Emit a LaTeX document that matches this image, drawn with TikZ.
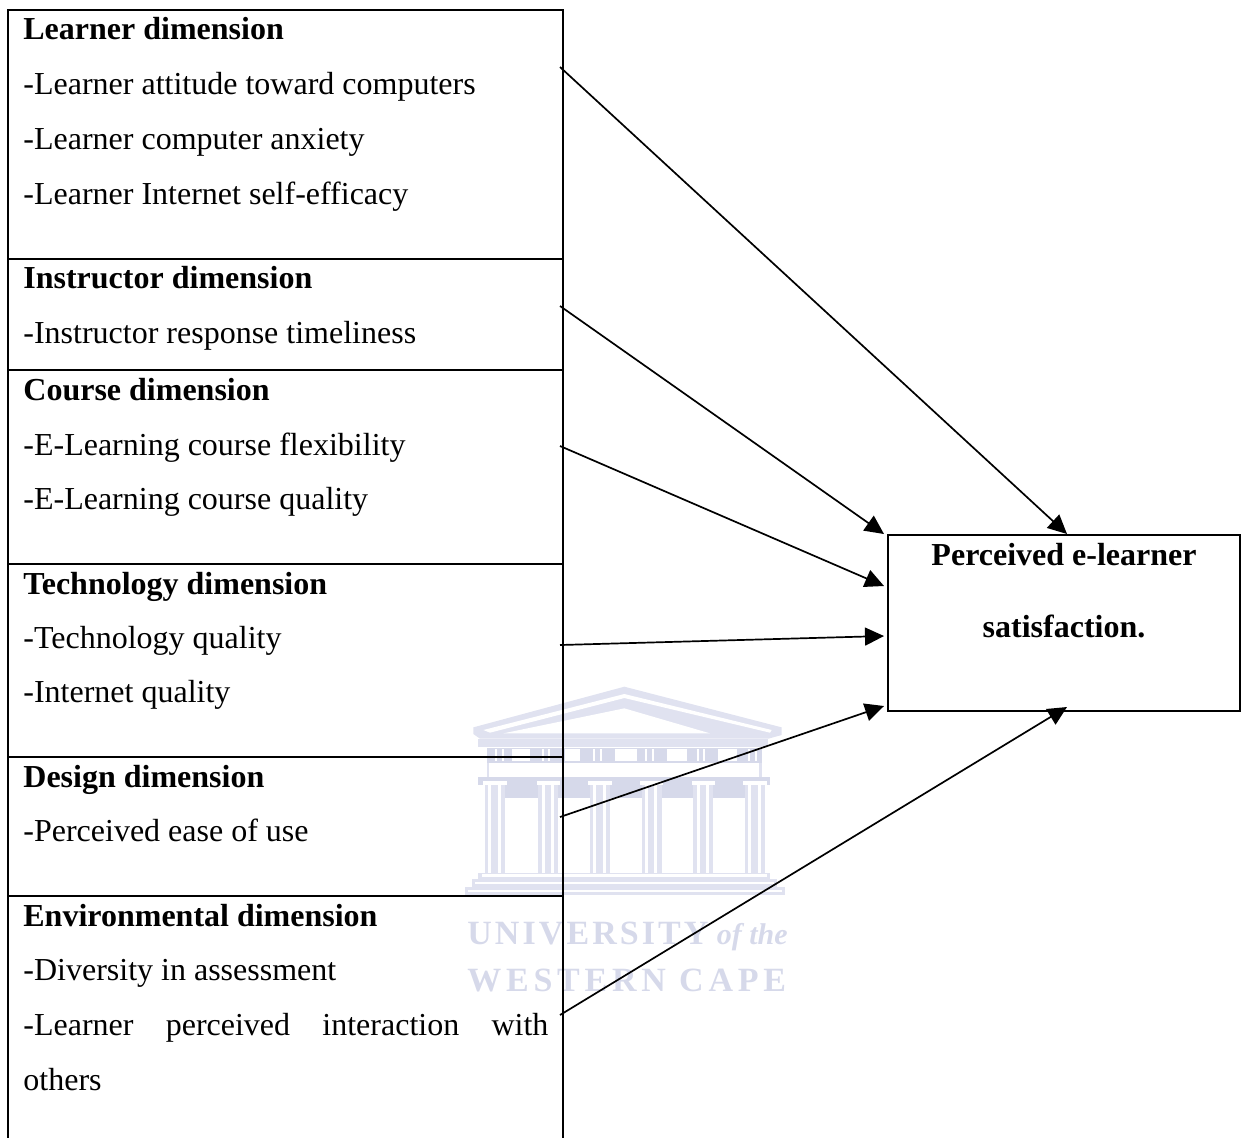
\documentclass[tikz,border=0pt]{standalone}
\usepackage{fontspec}
\setmainfont{Liberation Serif}
\newfontfamily\wmfont[LetterSpace=9]{Liberation Serif}
\newfontfamily\wmfontb[LetterSpace=14]{Liberation Serif}
\usetikzlibrary{arrows.meta}
\definecolor{wm}{HTML}{E0E2F0}
\definecolor{wmd}{HTML}{D6D9EA}
\tikzset{
  sect/.style={draw=black,line width=1pt,fill=none,anchor=north west,minimum width=277.5pt,inner sep=0pt,outer sep=0pt},
  outcomebox/.style={draw=black,line width=1pt,anchor=north west,minimum width=176pt,minimum height=88pt,inner sep=0pt,outer sep=0pt},
  head/.style={anchor=base west,inner sep=0pt,yshift=-0.4pt,font=\fontsize{16}{18}\selectfont\bfseries},
  item/.style={anchor=base west,inner sep=0pt,yshift=-0.4pt,font=\fontsize{16}{18}\selectfont},
  headc/.style={anchor=base,inner sep=0pt,yshift=-0.4pt,font=\fontsize{16}{18}\selectfont\bfseries},
  link/.style={draw=black,line width=0.85pt,-{Triangle[length=9.5pt,width=9pt]}},
  wmtext/.style={anchor=base west,inner sep=0pt,text=wmd,font=\fontsize{17}{20}\selectfont}
}
\begin{document}
\begin{tikzpicture}[x=0.5pt,y=-0.5pt]
\useasboundingbox (0,0) rectangle (1241,1137);
% watermark
\begin{scope}[shift={(440,670)},x=0.16667pt,y=-0.16667pt]
  \fill[wm] (100,172)--(553,50)--(1025,172)--(1025,195)--(985,206)--(120,206)--(100,192)--cycle;
  \fill[white] (130,180)--(553,72)--(995,180)--(990,188)--(553,84)--(150,188)--cycle;
  \fill[white] (190,190)--(553,115)--(810,190)--cycle;
  \fill[wm] (115,206) rectangle (985,230);
  \fill[wmd] (140,235) rectangle (965,280);
  \foreach \a/\b in {215/270,375/420,525/590,680/740,835/890}{\fill[white] (\a,238) rectangle (\b,272);}
  \foreach \a in {165,185,305,325,460,480,615,635,770,790,925,945}{\fill[white] (\a,238) rectangle ++(6,34);}
  \fill[wm] (140,280) rectangle (148,320);
  \fill[wm] (957,280) rectangle (965,320);
  \fill[wmd] (115,320) rectangle (990,345);
  \fill[wmd] (195,345) rectangle (915,385);
  \foreach \a in {135,295,450,605,760,915}{
    \fill[white] (\a-5,332) rectangle (\a+65,346);
    \fill[wm] (\a,346) rectangle (\a+60,610);
    \fill[white] (\a+10,346) rectangle (\a+19,610);
    \fill[white] (\a+38,346) rectangle (\a+47,610);
  }
  \fill[wm] (115,608) rectangle (990,628);
  \fill[white] (125,612) rectangle (980,622);
  \fill[wm] (95,628) rectangle (1012,650);
  \fill[white] (105,635) rectangle (1002,642);
  \fill[wm] (75,652) rectangle (1035,676);
  \fill[white] (85,660) rectangle (1025,666);
\end{scope}
\node[wmtext] (wma) at (467,944) {{\wmfont\bfseries UNIVERSITY} {\fontsize{15}{18}\selectfont\bfseries\itshape of the}};
\node[wmtext] (wmb) at (467,991) {\wmfontb\bfseries WESTERN CAPE};
% left column
\node[sect,minimum height=124.5pt] (learner) at (8,10) {};
\node[sect,minimum height=55.5pt] (instructor) at (8,259) {};
\node[sect,minimum height=97pt] (course) at (8,370) {};
\node[sect,minimum height=96.5pt] (technology) at (8,564) {};
\node[sect,minimum height=69.5pt] (design) at (8,757) {};
\node[sect,minimum height=130pt] (environment) at (8,896) {};
% right box
\node[outcomebox] (outcome) at (888,535) {};
% texts
\node[head] (t1) at (23,39) {Learner dimension};
\node[item] (t2) at (23,94) {-Learner attitude toward computers};
\node[item] (t3) at (23,149) {-Learner computer anxiety};
\node[item] (t4) at (23,204) {-Learner Internet self-efficacy};
\node[head] (t5) at (23,288) {Instructor dimension};
\node[item] (t6) at (23,343) {-Instructor response timeliness};
\node[head] (t7) at (23,400) {Course dimension};
\node[item] (t8) at (23,455) {-E-Learning course flexibility};
\node[item] (t9) at (23,509) {-E-Learning course quality};
\node[head] (t10) at (23,594) {Technology dimension};
\node[item] (t11) at (23,648) {-Technology quality};
\node[item] (t12) at (23,702) {-Internet quality};
\node[head] (t13) at (23,787) {Design dimension};
\node[item] (t14) at (23,841) {-Perceived ease of use};
\node[head] (t15) at (23,926) {Environmental dimension};
\node[item] (t16) at (23,980) {-Diversity in assessment};
\node[item] (t17) at (23,1035) {\hbox to 262.5pt{-Learner\hfill perceived\hfill interaction\hfill with}};
\node[item] (t18) at (23,1090) {others};
\node[headc] (o1) at (1064,565) {Perceived e-learner};
\node[headc] (o2) at (1064,637) {satisfaction.};
% connector ends
\coordinate (s1) at (560,67);
\coordinate (s2) at (560,306);
\coordinate (s3) at (560,446);
\coordinate (s4) at (560,645);
\coordinate (s5) at (560,817);
\coordinate (s6) at (560,1015);
\coordinate (e1) at (1067,534);
\coordinate (e2) at (884,534);
\coordinate (e3) at (884,586);
\coordinate (e4) at (884,636);
\coordinate (e5) at (884,706);
\coordinate (e6) at (1067,707);
\draw[link] (s1) -- (e1);
\draw[link] (s2) -- (e2);
\draw[link] (s3) -- (e3);
\draw[link] (s4) -- (e4);
\draw[link] (s5) -- (e5);
\draw[link] (s6) -- (e6);
\end{tikzpicture}
\end{document}
